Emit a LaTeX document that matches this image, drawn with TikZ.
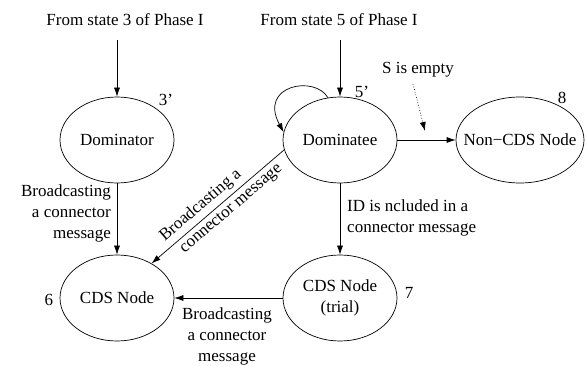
\documentclass[tikz,border=0pt]{standalone}
\usepackage{fontspec}
\setmainfont{Liberation Serif}
\usetikzlibrary{arrows.meta,shapes.geometric}
\begin{document}
\begin{tikzpicture}[x=1pt,y=-1pt,
  every node/.style={font=\fontsize{17}{21}\selectfont},
  state/.style={draw,ellipse,inner sep=0pt,minimum width=114pt,minimum height=86pt,line width=0.7pt},
  txt/.style={inner sep=0pt},
  arr/.style={-{Latex[length=9pt,width=6pt]},line width=0.7pt},
  lbl/.style={inner sep=4pt,align=center}]
\useasboundingbox (0,0) rectangle (587,366);
% states
\node[state,label=center:Dominator] (dom) at (117,140) {};
\node[state,label=center:Dominatee] (dee) at (340,140) {};
\node[state,minimum width=128pt,label=center:Non−CDS Node] (non) at (520,140) {};
\node[state,label=center:CDS Node] (cds) at (117,298) {};
\node[state,label={[align=center]center:CDS Node\\(trial)}] (tri) at (340,298) {};
% numbers
\node[txt] (n3) at (166,100) {3’};
\node[txt] (n5) at (362,92) {5’};
\node[txt] (n8) at (562,98) {8};
\node[txt] (n6) at (49,300) {6};
\node[txt] (n7) at (409,293) {7};
% sources
\node[txt] (src3) at (125,20) {From state 3 of Phase I};
\node[txt] (src5) at (339,20) {From state 5 of Phase I};
\node[txt] (sempty) at (418,70) {S is empty};
\coordinate (s3) at (117,40);
\coordinate (s5) at (340,40);
\coordinate (d0) at (413,84);
\coordinate (d1) at (425,131);
% arrows
\draw[arr] (s3) -- (dom.north);
\draw[arr] (s5) -- (dee.north);
\draw[arr,dotted] (d0) -- (d1);
\draw[arr] (dee.east) -- (non.west);
\draw[arr] (dee.106) .. controls (315,75) and (258,85) .. (dee.172);
\draw[arr] (dom.south) -- (cds.north);
\draw[arr] (dee.south) -- (tri.north);
\draw[arr] (tri.west) -- (cds.east);
\draw[arr] (dee.190) -- node[lbl,sloped,above,pos=0.57] (bl1) {Broadcasting a}
  node[lbl,sloped,below,pos=0.45] (bl2) {connector message} (cds.45);
% edge labels
\node[txt,align=right,anchor=east] (l1) at (111,213) {Broadcasting\\a connector\\message};
\node[txt,align=left,anchor=west] (l2) at (347,218) {ID is ncluded in a\\connector message};
\node[txt,align=center] (l3) at (227,336) {Broadcasting\\a connector\\message};
\end{tikzpicture}
\end{document}
